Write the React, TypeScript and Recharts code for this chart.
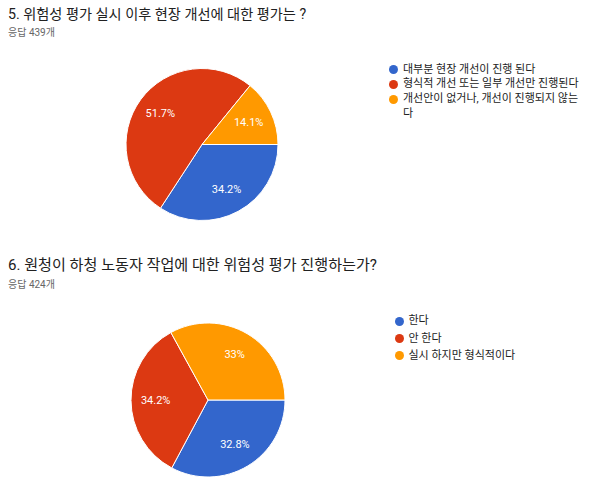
import React from 'react';
import { PieChart, Pie, Cell, Legend } from 'recharts';

// Q5 responses (439)
const q5Labels = ['대부분 현장 개선이 진행 된다', '형식적 개선 또는 일부 개선만 진행된다', '개선안이 없거나, 개선이 진행되지 않는다'];
const q5Values = [34.2, 51.7, 14.1];

// Q6 responses (424)
const q6Labels = ['한다', '안 한다', '실시 하지만 형식적이다'];
const q6Values = [32.8, 34.2, 33];

const COLORS = ['#3366cc', '#dc3912', '#ff9900'];
const FONT = "Roboto, 'Noto Sans CJK KR', sans-serif";
const RADIAN = Math.PI / 180;

const renderLabel = (props: any) => {
    const { cx, cy, midAngle, outerRadius, value } = props;
    const r = outerRadius * 0.68;
    const x = cx + r * Math.cos(-midAngle * RADIAN);
    const y = cy + r * Math.sin(-midAngle * RADIAN);
    return (
        <text x={x} y={y} fill="#ffffff" fontSize={11} fontFamily={FONT} textAnchor="middle" dominantBaseline="central">
            {`${value}%`}
        </text>
    );
};

// legend keeps data order (recharts sorts its payload by name otherwise)
const makeLegend = (labels: string[], lineHeight: number) => () => (
    <div style={{ fontFamily: FONT, fontSize: 11, color: '#222', lineHeight: `${lineHeight}px` }}>
        {labels.map((label, i) => (
            <div key={i} style={{ display: 'flex', alignItems: 'flex-start' }}>
                <span
                    style={{
                        display: 'inline-block',
                        width: 9,
                        height: 9,
                        borderRadius: 5,
                        background: COLORS[i],
                        marginTop: (lineHeight - 9) / 2,
                        marginRight: 5,
                        flexShrink: 0,
                    }}
                />
                <span>{label}</span>
            </div>
        ))}
    </div>
);

const titleStyle: React.CSSProperties = {
    position: 'absolute',
    left: 8,
    fontFamily: FONT,
    lineHeight: '18px',
    color: '#212121',
    whiteSpace: 'nowrap',
};

const subStyle: React.CSSProperties = {
    position: 'absolute',
    left: 8,
    fontFamily: FONT,
    fontSize: 10,
    lineHeight: '14px',
    color: '#666',
    whiteSpace: 'nowrap',
};

const App = () => {
    const q5Data = q5Labels.map((name, i) => ({ name, value: q5Values[i] }));
    const q6Data = q6Labels.map((name, i) => ({ name, value: q6Values[i] }));

    return (
        <div style={{ position: 'fixed', left: 0, top: 0, width: 600, height: 493, background: '#fff', overflow: 'hidden' }}>
            <div style={{ ...titleStyle, fontSize: 14.2, top: 4.5 }}>5. 위험성 평가 실시 이후 현장 개선에 대한 평가는 ?</div>
            <div style={{ ...subStyle, top: 26 }}>응답 439개</div>
            <div style={{ position: 'absolute', left: 0, top: 0 }}>
                <PieChart width={600} height={240}>
                    <Pie
                        data={q5Data}
                        dataKey="value"
                        nameKey="name"
                        cx={197}
                        cy={139.5}
                        outerRadius={76}
                        startAngle={0}
                        endAngle={-360}
                        stroke="#ffffff"
                        strokeWidth={1}
                        label={renderLabel}
                        labelLine={false}
                        isAnimationActive={false}
                    >
                        {q5Data.map((_, i) => (
                            <Cell key={i} fill={COLORS[i]} />
                        ))}
                    </Pie>
                    <Legend
                        content={makeLegend(q5Labels, 14.7)}
                        wrapperStyle={{ position: 'absolute', left: 389, top: 62.6, width: 196 }}
                    />
                </PieChart>
            </div>

            <div style={{ ...titleStyle, fontSize: 15.1, top: 256 }}>6. 원청이 하청 노동자 작업에 대한 위험성 평가 진행하는가?</div>
            <div style={{ ...subStyle, top: 278 }}>응답 424개</div>
            <div style={{ position: 'absolute', left: 0, top: 240 }}>
                <PieChart width={600} height={253}>
                    <Pie
                        data={q6Data}
                        dataKey="value"
                        nameKey="name"
                        cx={203}
                        cy={155}
                        outerRadius={77}
                        startAngle={0}
                        endAngle={-360}
                        stroke="#ffffff"
                        strokeWidth={1}
                        label={renderLabel}
                        labelLine={false}
                        isAnimationActive={false}
                    >
                        {q6Data.map((_, i) => (
                            <Cell key={i} fill={COLORS[i]} />
                        ))}
                    </Pie>
                    <Legend
                        content={makeLegend(q6Labels, 17.3)}
                        wrapperStyle={{ position: 'absolute', left: 394.5, top: 72.4, width: 196 }}
                    />
                </PieChart>
            </div>
        </div>
    );
};

export default App;
